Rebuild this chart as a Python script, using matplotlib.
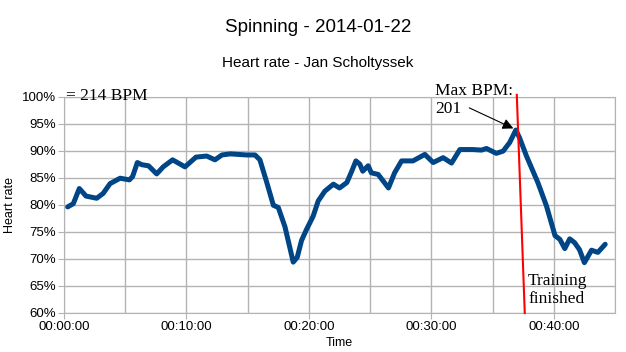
import matplotlib
matplotlib.use('Agg')
import matplotlib.pyplot as plt
from matplotlib.ticker import FuncFormatter, MultipleLocator

# Zeit in Minuten, Herzfrequenz in % von 214 BPM
minutes = [0.3, 0.76, 1.25, 1.8, 2.67, 3.2, 3.76, 4.58, 5.34, 5.6, 5.99, 6.35, 6.9,
           7.57, 8.1, 8.87, 9.88, 10.78, 11.65, 12.33, 12.9, 13.57, 14.9, 15.6,
           16.0, 16.55, 17.1, 17.5, 18.05, 18.72, 19.05, 19.4, 19.8, 20.35, 20.76,
           21.3, 22.0, 22.5, 23.1, 23.5, 23.84, 24.16, 24.4, 24.84, 25.1, 25.66,
           26.5, 27.0, 27.57, 28.5, 29.47, 30.15, 30.96, 31.65, 32.33, 33.4, 34.1,
           34.5, 35.3, 35.86, 36.4, 36.9, 37.2, 37.77, 38.7, 39.4, 40.1, 40.5,
           40.9, 41.3, 41.7, 42.1, 42.5, 43.08, 43.6, 44.2]
heart_rate = [79.6, 80.2, 83.0, 81.6, 81.2, 82.1, 83.9, 84.9, 84.6, 85.2, 87.8, 87.4, 87.2,
              85.7, 87.0, 88.3, 87.0, 88.8, 89.0, 88.3, 89.2, 89.4, 89.2, 89.2,
              88.3, 84.2, 79.9, 79.5, 75.9, 69.4, 70.3, 73.4, 75.4, 77.9, 80.7,
              82.5, 83.8, 83.1, 84.1, 86.2, 88.1, 87.5, 86.2, 87.2, 85.9, 85.6,
              83.1, 85.9, 88.1, 88.1, 89.3, 87.8, 88.7, 87.7, 90.2, 90.2, 90.1,
              90.4, 89.5, 89.9, 91.5, 93.8, 92.4, 89.0, 84.1, 79.8, 74.3, 73.6,
              71.9, 73.7, 73.0, 71.7, 69.3, 71.6, 71.2, 72.7]

finish_line_t = [36.98, 37.63]
finish_line_y = [100.3, 60]

plt.rcParams['font.family'] = ['Liberation Sans', 'DejaVu Sans']

fig = plt.figure(figsize=(6.26, 3.52), dpi=100)
ax = fig.add_axes([64 / 626, 1 - 313 / 352, (615 - 64) / 626, (313 - 96.5) / 352])

ax.plot(minutes, heart_rate, color='#004586', lw=3.6, solid_capstyle='round',
        solid_joinstyle='round', zorder=3)
ax.plot(finish_line_t, finish_line_y, color='#ff0000', lw=1.5, zorder=4, clip_on=False)

ax.set_xlim(0, 45)
ax.set_ylim(60, 100)
ax.xaxis.set_major_locator(MultipleLocator(10))
ax.xaxis.set_minor_locator(MultipleLocator(5))
ax.yaxis.set_major_locator(MultipleLocator(5))
ax.xaxis.set_major_formatter(FuncFormatter(lambda v, p: '%02d:%02d:00' % (v // 60, v % 60)))
ax.yaxis.set_major_formatter(FuncFormatter(lambda v, p: '%d%%' % v))
ax.grid(True, which='major', color='#b3b3b3', lw=1)
ax.grid(True, which='minor', axis='x', color='#b3b3b3', lw=1)
ax.set_axisbelow(True)
for s in ax.spines.values():
    s.set_color('#b3b3b3')
ax.tick_params(which='major', length=4, color='#b3b3b3', labelsize=9.5, pad=2)
ax.tick_params(which='minor', length=0)

ax.set_xlabel('Time', fontsize=9, labelpad=3)
ax.set_ylabel('Heart rate', fontsize=9, labelpad=4)

fig.text(0.508, 1 - 27 / 352, 'Spinning - 2014-01-22', ha='center', va='center', fontsize=13.5)
fig.text(0.508, 1 - 63 / 352, 'Heart rate - Jan Scholtyssek', ha='center', va='center', fontsize=11)

serif = ['Liberation Serif', 'DejaVu Serif']
ax.text(0.2, 100, '= 214 BPM', family=serif, fontsize=12.5, va='center', ha='left')
ax.text(30.3, 99.4, 'Max BPM:\n201', family=serif, fontsize=12.5, ha='left', va='center',
        linespacing=1.15)
ax.annotate('', xy=(36.7, 94.1), xytext=(33.1, 97.9),
            arrowprops=dict(arrowstyle='-|>', color='black', lw=0.8,
                            mutation_scale=16, shrinkA=0, shrinkB=0),
            annotation_clip=False)
ax.text(37.9, 64.3, 'Training\nfinished', family=serif, fontsize=12.5, ha='left',
        va='center', linespacing=1.15)

fig.savefig('out.png', dpi=100)
